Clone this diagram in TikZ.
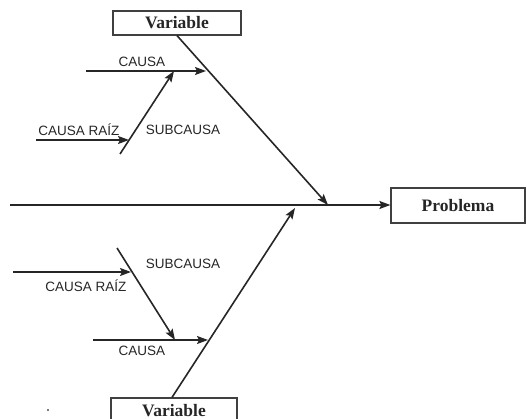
\documentclass[tikz,border=0pt]{standalone}
\usepackage{fontspec}
\setmainfont{Liberation Serif}
\setsansfont{Liberation Sans}
\usetikzlibrary{arrows.meta}
\begin{document}
\begin{tikzpicture}[x=1pt,y=-1pt,
  bone/.style={line width=1.6pt,black!85},
  arr/.style={bone,-{Stealth[length=11pt,width=8pt,inset=2pt]}},
  varbox/.style={draw,line width=1.2pt,black!75,inner sep=0pt,
    font=\fontsize{17.5}{17.5}\selectfont\bfseries,text=black!85},
  lbl/.style={font=\sffamily\fontsize{13.5}{13.5}\selectfont,text=black!85,inner sep=0pt}]
\useasboundingbox (0,0) rectangle (527,419);
% effect box and main spine
\node[varbox,minimum width=134pt,minimum height=35pt] (prob) at (458,205.5) {Problema};
\coordinate (tail) at (10,205);
\draw[arr] (tail) -- (prob.west |- tail);
% upper branch
\node[varbox,minimum width=128pt,minimum height=24pt] (vtop) at (177,23) {Variable};
\coordinate (ttip) at (328,205);
\draw[arr] (vtop.south) -- (ttip);
\coordinate (tc0) at (86,71);
\coordinate (tc1) at (206,71);
\draw[arr] (tc0) -- (tc1);
\node[lbl] (tcl) at (142,62) {CAUSA};
\coordinate (ts0) at (120,154);
\coordinate (ts1) at (174,71);
\draw[arr] (ts0) -- (ts1);
\coordinate (tr0) at (36,140);
\coordinate (tr1) at (129,140);
\draw[arr] (tr0) -- (tr1);
\node[lbl] (trl) at (79,130) {CAUSA RAÍZ};
\node[lbl] (tsl) at (183,130) {SUBCAUSA};
% lower branch: box runs past the lower edge
\node[varbox,minimum width=126pt,minimum height=24pt,text height=12pt,text depth=0pt] (vbot) at (174,410) {Variable};
\coordinate (btip) at (295,208);
\draw[arr] (vbot.north -| 172,0) -- (btip);
\coordinate (bc0) at (93,340);
\coordinate (bc1) at (208,340);
\draw[arr] (bc0) -- (bc1);
\node[lbl] (bcl) at (142,351) {CAUSA};
\coordinate (bs0) at (117,248);
\coordinate (bs1) at (175,340);
\draw[arr] (bs0) -- (bs1);
\coordinate (br0) at (13,272);
\coordinate (br1) at (131,272);
\draw[arr] (br0) -- (br1);
\node[lbl] (brl) at (86,286) {CAUSA RAÍZ};
\node[lbl] (bsl) at (183,264) {SUBCAUSA};
% stray mark
\fill[black!70] (48,410) circle (1.2pt);
\end{tikzpicture}
\end{document}
